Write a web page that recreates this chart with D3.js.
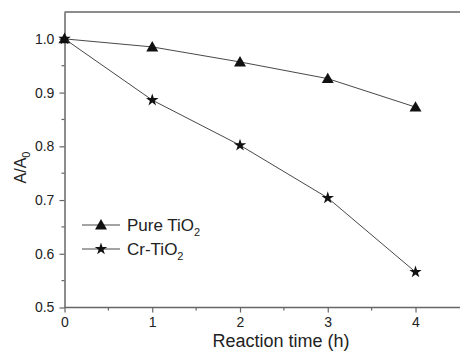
<!DOCTYPE html>
<html>
<head>
<meta charset="utf-8">
<script src="https://cdn.jsdelivr.net/npm/d3@7"></script>
<style>
  body { margin: 0; background: #fff; }
  text { font-family: "Liberation Sans", Arial, sans-serif; fill: #222; }
</style>
</head>
<body>
<div id="chart"></div>
<script>
var times = [0, 1, 2, 3, 4];
var pureTiO2 = [1.0, 0.985, 0.957, 0.926, 0.873];
var crTiO2 = [1.0, 0.886, 0.802, 0.704, 0.566];
var xTicks = [0, 1, 2, 3, 4];
var yTicks = [0.5, 0.6, 0.7, 0.8, 0.9, 1.0];
var seriesNames = ["Pure TiO", "Cr-TiO"];

var width = 460, height = 352;
var margin = { left: 64.5, top: 12, right: 0, bottom: 44.5 };
var innerW = 455 - margin.left;
var innerH = height - margin.top - margin.bottom;

var svg = d3.select("#chart").append("svg")
  .attr("width", width)
  .attr("height", height);

var g = svg.append("g")
  .attr("transform", "translate(" + margin.left + "," + margin.top + ")");

var x = d3.scaleLinear().domain([0, 4.45]).range([0, innerW]);
var y = d3.scaleLinear().domain([0.5, 1.05]).range([innerH, 0]);

var axisColor = "#666";

// frame: top, left, bottom (right side is cut off by the picture edge)
g.append("line").attr("x1", 0).attr("x2", innerW + 20).attr("y1", 0).attr("y2", 0)
  .attr("stroke", axisColor).attr("stroke-width", 1.5);

// x axis
var xAxisG = g.append("g").attr("transform", "translate(0," + innerH + ")");
xAxisG.call(d3.axisBottom(x).tickValues(xTicks).tickFormat(d3.format("d")).tickSize(5).tickSizeOuter(0));
xAxisG.append("g").selectAll("line").data([0.5, 1.5, 2.5, 3.5]).join("line")
  .attr("x1", d => x(d)).attr("x2", d => x(d)).attr("y1", 0).attr("y2", 3)
  .attr("stroke", axisColor).attr("stroke-width", 1.2);
xAxisG.select(".domain").attr("d", "M0,0H" + (innerW + 20));

// y axis
var yAxisG = g.append("g");
yAxisG.call(d3.axisLeft(y).tickValues(yTicks).tickFormat(d3.format(".1f")).tickSize(5).tickSizeOuter(0));
yAxisG.append("g").selectAll("line").data([0.55, 0.65, 0.75, 0.85, 0.95]).join("line")
  .attr("x1", 0).attr("x2", -3).attr("y1", d => y(d)).attr("y2", d => y(d))
  .attr("stroke", axisColor).attr("stroke-width", 1.2);

[xAxisG, yAxisG].forEach(function (a) {
  a.select(".domain").attr("stroke", axisColor).attr("stroke-width", 1.5);
  a.selectAll(".tick line").attr("stroke", axisColor).attr("stroke-width", 1.2);
  a.selectAll(".tick text").style("font-size", "14px").attr("fill", "#222")
    .style("font-family", '"Liberation Sans", Arial, sans-serif');
});
xAxisG.selectAll(".tick text").attr("dy", "0.8em");
yAxisG.selectAll(".tick text").attr("dx", "-0.15em");

// axis labels
g.append("text")
  .attr("x", 216.5)
  .attr("y", 347 - margin.top)
  .attr("text-anchor", "middle")
  .style("font-size", "18px")
  .text("Reaction time (h)");

var yLab = g.append("text")
  .attr("transform", "translate(-38.5,155.5) rotate(-90)")
  .attr("text-anchor", "middle")
  .style("font-size", "16px");
yLab.append("tspan").text("A/A");
yLab.append("tspan").attr("dy", 4).style("font-size", "11px").text("0");

// series
var triangle = d3.symbol().type(d3.symbolTriangle).size(62);
var star = d3.symbol().type(d3.symbolStar).size(48);

var line = d3.line().x(d => x(d[0])).y(d => y(d[1]));

var series = [
  { name: seriesNames[0], values: pureTiO2, sym: triangle, dy: 1 },
  { name: seriesNames[1], values: crTiO2, sym: star, dy: 0 }
];

series.forEach(function (s) {
  var pts = times.map((t, i) => [t, s.values[i]]);
  g.append("path").datum(pts)
    .attr("d", line)
    .attr("fill", "none")
    .attr("stroke", "#333")
    .attr("stroke-width", 0.9);
  g.selectAll(null).data(pts).join("path")
    .attr("transform", d => "translate(" + x(d[0]) + "," + (y(d[1]) + s.dy) + ")")
    .attr("d", s.sym)
    .attr("fill", "#111");
});

// legend
var legend = g.append("g").attr("transform", "translate(" + (82 - margin.left) + "," + (225 - margin.top) + ")");
series.forEach(function (s, i) {
  var row = legend.append("g").attr("transform", "translate(0," + (i * 24) + ")");
  row.append("line").attr("x1", 0).attr("x2", 38).attr("y1", 0).attr("y2", 0)
    .attr("stroke", "#333").attr("stroke-width", 0.9);
  row.append("path").attr("transform", "translate(19," + s.dy + ")").attr("d", s.sym).attr("fill", "#111");
  var t = row.append("text").attr("x", 45).attr("y", 6).style("font-size", "17px");
  t.append("tspan").text(s.name);
  t.append("tspan").attr("dy", 5).style("font-size", "11px").text("2");
});
</script>
</body>
</html>
